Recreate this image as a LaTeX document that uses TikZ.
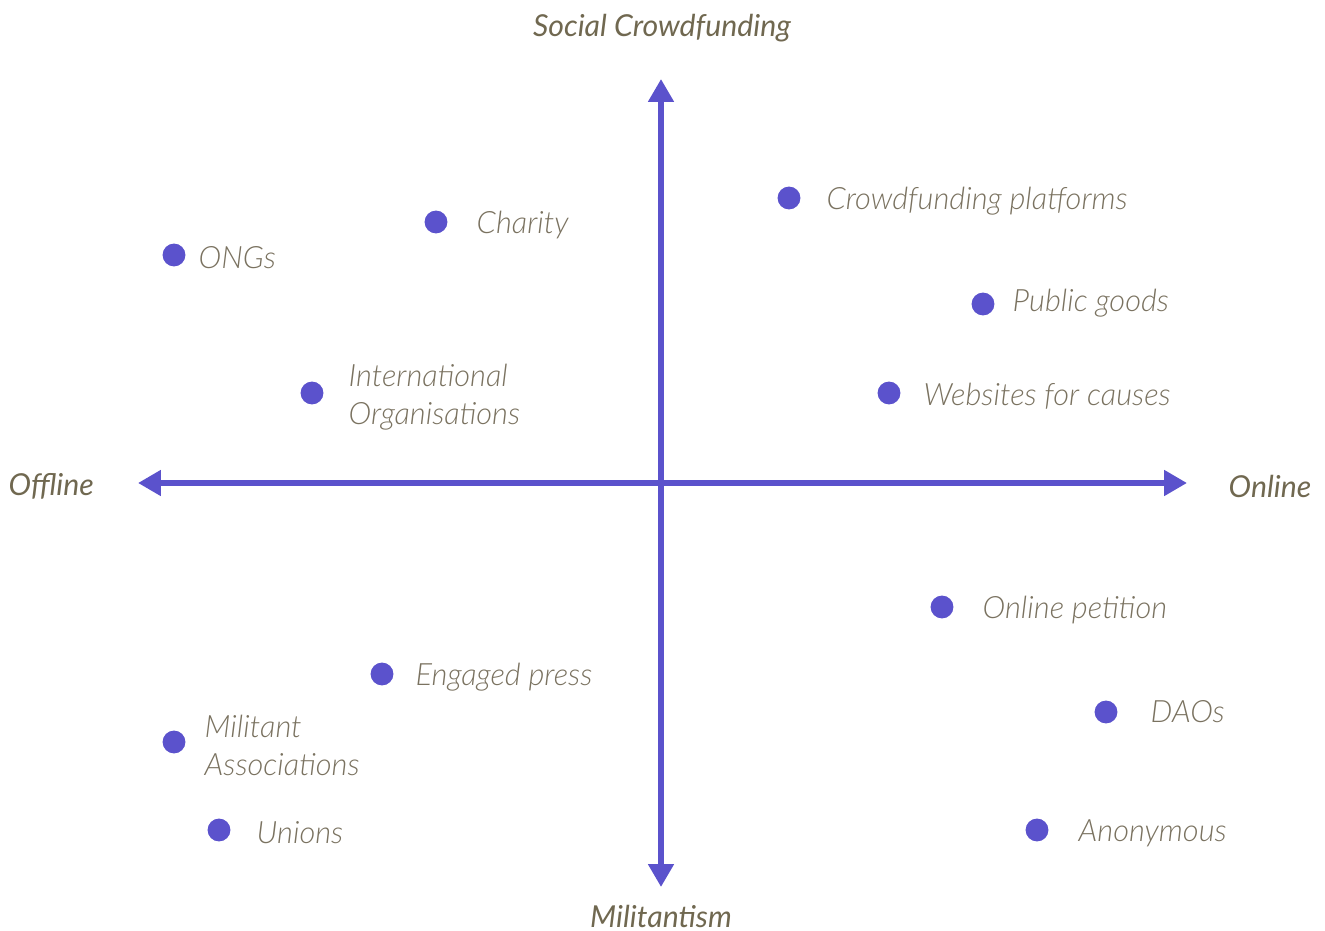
\documentclass[tikz,border=0pt]{standalone}
\usepackage{fontspec}
\setmainfont{Lato}
\newfontfamily\lightit{Lato Light Italic}
\newfontfamily\medit{Lato Italic}
\usetikzlibrary{arrows.meta}
\definecolor{axpurple}{RGB}{91,82,204}
\definecolor{labtxt}{RGB}{122,114,96}
\definecolor{axtxt}{RGB}{112,104,80}
\tikzset{
  axisline/.style={draw=axpurple, line width=1.6pt, -{Triangle[length=6.5pt,width=7pt]}},
  dot/.style={circle, fill=axpurple, inner sep=0pt, minimum size=6.5pt},
  lab/.style={anchor=west, text=labtxt, font=\lightit\fontsize{8.75}{10.8}\selectfont, inner sep=0pt, align=left},
  axlab/.style={text=axtxt, font=\medit\fontsize{8.6}{10}\selectfont, inner sep=0pt}
}
\begin{document}
\begin{tikzpicture}[x=0.01cm,y=-0.01cm]
\useasboundingbox (0,0) rectangle (1325,931);
\coordinate (c) at (661,483);
\coordinate (l) at (138,483);
\coordinate (r) at (1187,483);
\coordinate (t) at (661,79);
\coordinate (b) at (661,887);
\draw[axisline] (c) -- (l);
\draw[axisline] (c) -- (r);
\draw[axisline] (c) -- (t);
\draw[axisline] (c) -- (b);
\node[axlab] (st) at (662,28) {Social Crowdfunding};
\node[axlab] (sb) at (661,916) {Militantism};
\node[axlab, anchor=west] (sl) at (8,486) {Offline};
\node[axlab, anchor=east] (sr) at (1312,486) {Online};
% points
\node[dot] (d1) at (174,255) {}; \node[lab] (t1) at (198,258) {ONGs};
\node[dot] (d2) at (436,222) {}; \node[lab] (t2) at (476,225) {Charity};
\node[dot] (d3) at (789,198) {}; \node[lab] (t3) at (826,201) {Crowdfunding platforms};
\node[dot] (d4) at (983,304) {}; \node[lab] (t4) at (1012,303) {Public goods};
\node[dot] (d5) at (889,393) {}; \node[lab] (t5) at (923,396) {Websites for causes};
\node[dot] (d6) at (312,393) {}; \node[lab] (t6) at (348,397) {International\\Organisations};
\node[dot] (d7) at (942,607) {}; \node[lab] (t7) at (982,610) {Online petition};
\node[dot] (d8) at (382,674) {}; \node[lab] (t8) at (415,677) {Engaged press};
\node[dot] (d9) at (1106,712) {}; \node[lab] (t9) at (1150,712) {DAOs};
\node[dot] (d10) at (174,742) {}; \node[lab] (t10) at (204,745) {Militant\\Associations};
\node[dot] (d11) at (219,830) {}; \node[lab] (t11) at (256,833) {Unions};
\node[dot] (d12) at (1037,830) {}; \node[lab] (t12) at (1078,833) {Anonymous};
\end{tikzpicture}
\end{document}
